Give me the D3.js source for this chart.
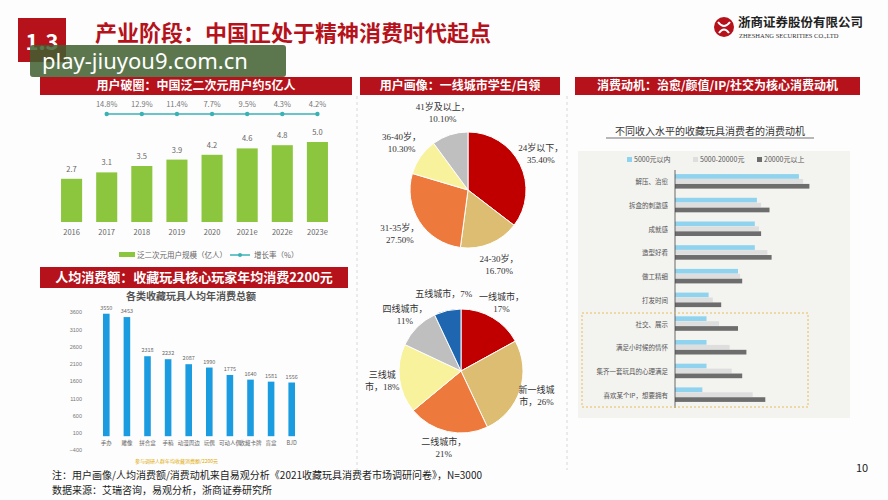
<!DOCTYPE html>
<html>
<head>
<meta charset="utf-8">
<script src="https://cdn.jsdelivr.net/npm/d3@7"></script>
<style>
  html, body { margin: 0; padding: 0; background: #fff; }
  svg { display: block; font-family: "Noto Sans CJK SC", "Noto Sans", sans-serif; }
</style>
</head>
<body>
<div id="chart"></div>
<script>
// ---- data ----
const years = ["2016", "2017", "2018", "2019", "2020", "2021e", "2022e", "2023e"];
const userScale = [2.7, 3.1, 3.5, 3.9, 4.2, 4.6, 4.8, 5.0];
const growthYears = ["2017", "2018", "2019", "2020", "2021e", "2022e", "2023e"];
const growthRate = [14.8, 12.9, 11.4, 7.7, 9.5, 4.3, 4.2];

const ageGroups = ["24岁以下", "24-30岁", "31-35岁", "36-40岁", "41岁及以上"];
const ageShare = [35.4, 16.7, 27.5, 10.3, 10.1];

const cityTiers = ["一线城市", "新一线城市", "二线城市", "三线城市", "四线城市", "五线城市"];
const cityShare = [17, 26, 21, 18, 11, 7];

const toyTypes = ["手办", "雕像", "拼合盒", "手稿", "动漫周边", "玩偶", "可动人偶", "收藏卡牌", "盲盒", "BJD"];
const toySpend = [3550, 3453, 2318, 2232, 2087, 1990, 1775, 1640, 1581, 1556];
const spendTicks = [-400, 100, 600, 1100, 1600, 2100, 2600, 3100, 3600];

const motives = ["解压、治愈", "拆盒的刺激感", "成就感", "造型好看", "做工精细", "打发时间",
  "社交、展示", "满足小时候的情怀", "集齐一套玩具的心理满足", "喜欢某个IP，想要拥有"];
const incomeGroups = ["5000元以内", "5000-20000元", "20000元以上"];
const motiveLow = [59, 39, 38, 38, 30, 16, 15, 15, 15, 13];
const motiveMid = [61, 41, 40, 44, 31, 18, 21, 26, 27, 37];
const motiveHigh = [64, 45, 41, 46, 32, 22, 30, 34, 32, 43];

// ---- canvas ----
const width = 888, height = 500;
const red = "#b5121b";
const svg = d3.select("#chart").append("svg")
  .attr("width", width).attr("height", height)
  .attr("viewBox", "0 0 " + width + " " + height);

svg.append("rect").attr("width", width).attr("height", height).attr("fill", "#fdfdfd");

// header
svg.append("rect").attr("x", 18).attr("y", 18).attr("width", 48).attr("height", 44).attr("fill", red);
svg.append("text").text("1.3").attr("x", 42).attr("y", 50).attr("text-anchor", "middle")
  .attr("font-size", 22).attr("font-weight", "bold").attr("fill", "#fff");
svg.append("text").text("产业阶段：中国正处于精神消费时代起点")
  .attr("x", 95).attr("y", 41).attr("font-size", 22).attr("font-weight", "bold").attr("fill", red);

// logo
svg.append("circle").attr("cx", 724).attr("cy", 27).attr("r", 10).attr("fill", red);
svg.append("path").attr("d", "M718 22 Q724 30 730 22 M719 33 Q724 26 729 33")
  .attr("stroke", "#fff").attr("stroke-width", 2).attr("fill", "none");
svg.append("text").text("浙商证券股份有限公司").attr("x", 738).attr("y", 27)
  .attr("font-size", 12.5).attr("font-weight", "bold").attr("fill", "#222");
svg.append("text").text("ZHESHANG SECURITIES CO.,LTD").attr("x", 739).attr("y", 38)
  .attr("font-size", 6.5).attr("fill", "#333").attr("font-family", "Liberation Serif");

// watermark
svg.append("rect").attr("x", 30).attr("y", 45).attr("width", 256).attr("height", 32).attr("rx", 3)
  .attr("fill", "#3f5f2f").attr("opacity", 0.85);
svg.append("text").text("play-jiuyou9.com.cn").attr("x", 42).attr("y", 69)
  .attr("font-size", 22).attr("fill", "#fff").attr("font-family", "Noto Sans");

// panel headers
function header(x, w, y, h, label, fs) {
  svg.append("rect").attr("x", x).attr("y", y).attr("width", w).attr("height", h).attr("fill", red);
  svg.append("text").text(label).attr("x", x + w / 2).attr("y", y + h / 2 + fs * 0.36)
    .attr("text-anchor", "middle").attr("font-size", fs).attr("font-weight", "bold").attr("fill", "#fff");
}
header(40, 312, 77, 18, "用户破圈：中国泛二次元用户约5亿人", 12);
header(360, 200, 77, 18, "用户画像：一线城市学生/白领", 12);
header(575, 285, 77, 18, "消费动机：治愈/颜值/IP/社交为核心消费动机", 12);
header(40, 308, 267, 21, "人均消费额：收藏玩具核心玩家年均消费2200元", 13);

// separators
[357, 567].forEach(function (x) {
  svg.append("line").attr("x1", x).attr("x2", x).attr("y1", 96).attr("y2", 470)
    .attr("stroke", "#d8d8d8").attr("stroke-dasharray", "3,3");
});

// ---- chart 1: user scale ----
const x1 = d3.scaleBand().domain(years).range([47, 342]).padding(0.4);
const y1 = d3.scaleLinear().domain([0, 5]).range([222, 142]);
const g1 = svg.append("g");
g1.selectAll("rect.bar").data(userScale).join("rect")
  .attr("x", (d, i) => x1(years[i])).attr("y", d => y1(d))
  .attr("width", x1.bandwidth()).attr("height", d => y1(0) - y1(d)).attr("fill", "#8cc63e");
g1.selectAll("text.val").data(userScale).join("text")
  .text(d => d.toFixed(1)).attr("x", (d, i) => x1(years[i]) + x1.bandwidth() / 2).attr("y", d => y1(d) - 7)
  .attr("text-anchor", "middle").attr("font-size", 7.5).attr("fill", "#666");
g1.selectAll("text.yr").data(years).join("text")
  .text(d => d).attr("x", d => x1(d) + x1.bandwidth() / 2).attr("y", 235)
  .attr("text-anchor", "middle").attr("font-size", 7.5).attr("fill", "#666");
const lineY = 114;
const gx = d => x1(d) + x1.bandwidth() / 2;
g1.append("path").attr("d", d3.line().x(d => gx(d)).y(lineY)(growthYears))
  .attr("stroke", "#3ab1b5").attr("stroke-width", 1.5).attr("fill", "none");
g1.selectAll("circle").data(growthYears).join("circle")
  .attr("cx", d => gx(d)).attr("cy", lineY).attr("r", 2.2).attr("fill", "#3ab1b5");
g1.selectAll("text.gr").data(growthRate).join("text")
  .text(d => d.toFixed(1) + "%").attr("x", (d, i) => gx(growthYears[i])).attr("y", 107)
  .attr("text-anchor", "middle").attr("font-size", 7.5).attr("fill", "#777");
// legend
g1.append("rect").attr("x", 119).attr("y", 252).attr("width", 16).attr("height", 5).attr("fill", "#8cc63e");
g1.append("text").text("泛二次元用户规模（亿人）").attr("x", 137).attr("y", 258).attr("font-size", 7.5).attr("fill", "#666");
g1.append("line").attr("x1", 230).attr("x2", 250).attr("y1", 255).attr("y2", 255).attr("stroke", "#3ab1b5").attr("stroke-width", 1.5);
g1.append("circle").attr("cx", 240).attr("cy", 255).attr("r", 2).attr("fill", "#3ab1b5");
g1.append("text").text("增长率（%）").attr("x", 254).attr("y", 258).attr("font-size", 7.5).attr("fill", "#666");

// ---- pies ----
const serif = "'Liberation Serif', 'Noto Sans CJK SC', serif";
function pieChart(cx, cy, r, names, shares, colors, labelLines, lr) {
  const g = svg.append("g").attr("transform", "translate(" + cx + "," + cy + ")");
  const arcs = d3.pie().sort(null).value(d => d)(shares);
  const arc = d3.arc().innerRadius(0).outerRadius(r);
  const lab = d3.arc().innerRadius(r * lr).outerRadius(r * lr);
  g.selectAll("path").data(arcs).join("path")
    .attr("d", arc).attr("fill", (d, i) => colors[i]).attr("stroke", "#fff").attr("stroke-width", 1);
  arcs.forEach(function (a, i) {
    const c = lab.centroid(a);
    const lines = labelLines(names[i], shares[i]);
    const t = g.append("text").attr("text-anchor", "middle").attr("font-size", 9)
      .attr("fill", "#333").attr("font-family", serif);
    lines.forEach(function (s, k) {
      t.append("tspan").text(s).attr("x", c[0]).attr("y", c[1] + (k - (lines.length - 1) / 2) * 12 + 3);
    });
  });
}
pieChart(468, 190, 58, ageGroups, ageShare,
  ["#c00000", "#dcbd72", "#ed7a3c", "#f8f29c", "#bfbfbf"],
  (n, v) => [n + "，", v.toFixed(2) + "%"], 1.4);
pieChart(461, 371, 62, cityTiers, cityShare,
  ["#c00000", "#dcbd72", "#ed7a3c", "#f8f29c", "#bfbfbf", "#1f66b0"],
  function (n, v) {
    if (v < 10) return [n + "，" + v + "%"];
    if (n.length > 4 || n === "三线城市") return [n.slice(0, n.length - 1), n.slice(-1) + "，" + v + "%"];
    return [n + "，", v + "%"];
  }, 1.28);

// ---- chart 4: spend per toy type ----
const x4 = d3.scaleBand().domain(toyTypes).range([89, 309]).padding(0.68);
const y4 = d3.scaleLinear().domain([-400, 3600]).range([450, 312]);
const g4 = svg.append("g");
g4.append("text").text("各类收藏玩具人均年消费总额").attr("x", 191).attr("y", 300)
  .attr("text-anchor", "middle").attr("font-size", 10).attr("font-weight", "bold").attr("fill", "#555");
g4.append("g").attr("transform", "translate(82,0)")
  .call(d3.axisLeft(y4).tickValues(spendTicks).tickFormat(d3.format("d")).tickSize(0).tickPadding(0))
  .call(a => a.select(".domain").remove())
  .selectAll("text").attr("font-size", 5.5).attr("fill", "#777");
g4.selectAll("rect").data(toySpend).join("rect")
  .attr("x", (d, i) => x4(toyTypes[i])).attr("y", d => y4(d))
  .attr("width", x4.bandwidth()).attr("height", d => y4(0) - y4(d)).attr("fill", "#1c9ce0");
g4.selectAll("text.v").data(toySpend).join("text")
  .text(d => d).attr("x", (d, i) => x4(toyTypes[i]) + x4.bandwidth() / 2).attr("y", d => y4(d) - 4)
  .attr("text-anchor", "middle").attr("font-size", 5.5).attr("fill", "#666");
g4.selectAll("text.c").data(toyTypes).join("text")
  .text(d => d).attr("x", d => x4(d) + x4.bandwidth() / 2).attr("y", 445)
  .attr("text-anchor", "middle").attr("font-size", 5.5).attr("fill", "#666");
g4.append("text").text("参与调研人群年均收藏消费额/2200元").attr("x", 135).attr("y", 463)
  .attr("font-size", 5).attr("fill", "#e0a800");

// ---- chart 5: motives ----
const g5 = svg.append("g");
g5.append("text").text("不同收入水平的收藏玩具消费者的消费动机").attr("x", 710).attr("y", 135)
  .attr("text-anchor", "middle").attr("font-size", 10).attr("fill", "#333");
g5.append("line").attr("x1", 606).attr("x2", 814).attr("y1", 138).attr("y2", 138).attr("stroke", "#333").attr("stroke-width", 0.7);
g5.append("rect").attr("x", 578).attr("y", 151).attr("width", 272).attr("height", 267).attr("fill", "#f3f3f0");
const incomeColors = ["#8fd3ee", "#dedede", "#6d6d6d"];
const series = [motiveLow, motiveMid, motiveHigh];
const y5 = d3.scaleBand().domain(motives).range([170, 407]);
const sub = d3.scaleBand().domain(incomeGroups).range([-8, 7]).padding(0.05);
const x5 = d3.scaleLinear().domain([0, 65]).range([675, 811.5]);
series.forEach(function (vals, s) {
  g5.selectAll("rect.s" + s).data(vals).join("rect")
    .attr("x", x5(0)).attr("y", (d, i) => y5(motives[i]) + y5.bandwidth() / 2 + sub(incomeGroups[s]))
    .attr("width", d => x5(d) - x5(0)).attr("height", sub.bandwidth()).attr("fill", incomeColors[s]);
});
g5.append("line").attr("x1", 675).attr("x2", 675).attr("y1", 170).attr("y2", 408).attr("stroke", "#444").attr("stroke-width", 0.8);
g5.selectAll("text.m").data(motives).join("text")
  .text(d => d).attr("x", 668).attr("y", d => y5(d) + y5.bandwidth() / 2 + 2.5)
  .attr("text-anchor", "end").attr("font-size", 6.5).attr("fill", "#555");
// legend
const legX = [627, 693, 757];
incomeGroups.forEach(function (n, i) {
  g5.append("rect").attr("x", legX[i]).attr("y", 157).attr("width", 5).attr("height", 5).attr("fill", incomeColors[i]);
  g5.append("text").text(n).attr("x", legX[i] + 7).attr("y", 162).attr("font-size", 7).attr("fill", "#555");
});
g5.append("rect").attr("x", 582).attr("y", 313).attr("width", 226).attr("height", 94)
  .attr("fill", "none").attr("stroke", "#e8b84a").attr("stroke-dasharray", "2,2").attr("stroke-width", 0.9);

// footer
svg.append("text").text("注：用户画像/人均消费额/消费动机来自易观分析《2021收藏玩具消费者市场调研问卷》，N=3000")
  .attr("x", 52).attr("y", 479).attr("font-size", 10).attr("fill", "#222");
svg.append("text").text("数据来源：艾瑞咨询，易观分析，浙商证券研究所")
  .attr("x", 52).attr("y", 494).attr("font-size", 10).attr("fill", "#222");
svg.append("text").text("10").attr("x", 862).attr("y", 472).attr("text-anchor", "middle")
  .attr("font-size", 11).attr("fill", "#222");
</script>
</body>
</html>
